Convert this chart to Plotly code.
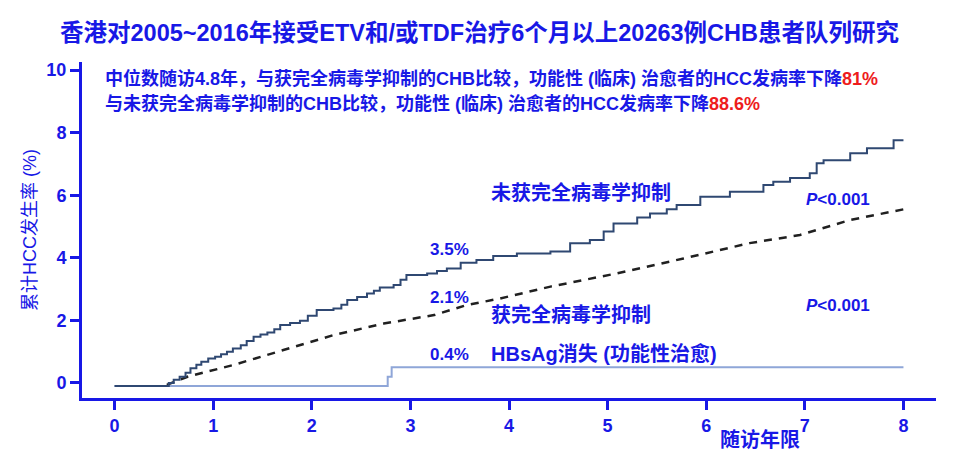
import plotly.graph_objects as go

BLUE = '#1818e6'
FONT = 'Liberation Sans, Noto Sans CJK SC, sans-serif'

# 未获完全病毒学抑制 (step curve: time of step, new level)
unsup_x = [0, 0.5, 0.55, 0.6, 0.66, 0.72, 0.77, 0.83, 0.88, 0.95, 1.02, 1.08, 1.14, 1.2,
           1.28, 1.34, 1.41, 1.48, 1.55, 1.62, 1.68, 1.78, 1.88, 1.96, 2.05, 2.22, 2.3,
           2.36, 2.46, 2.56, 2.63, 2.69, 2.83, 2.9, 2.96, 3.17, 3.27, 3.37, 3.51, 3.67,
           3.84, 4.08, 4.42, 4.62, 4.82, 4.96, 5.06, 5.3, 5.43, 5.6, 5.7, 5.94, 6.24,
           6.58, 6.68, 6.85, 7.05, 7.12, 7.19, 7.46, 7.63, 7.9, 8.0]
unsup_y = [-0.1, -0.1, 0.0, 0.1, 0.2, 0.33, 0.47, 0.58, 0.68, 0.78, 0.84, 0.92, 1.0, 1.1,
           1.21, 1.34, 1.48, 1.55, 1.61, 1.72, 1.85, 1.92, 1.99, 2.15, 2.33, 2.38, 2.5,
           2.65, 2.75, 2.86, 2.95, 3.05, 3.13, 3.3, 3.45, 3.5, 3.58, 3.66, 3.84, 3.93,
           4.06, 4.14, 4.2, 4.47, 4.57, 4.84, 5.1, 5.29, 5.42, 5.55, 5.69, 5.95, 6.11,
           6.33, 6.43, 6.55, 6.7, 7.02, 7.12, 7.34, 7.5, 7.76, 7.76]

# 获完全病毒学抑制 (dashed)
sup_x = [0.53, 0.74, 1.21, 1.72, 2.22, 2.73, 3.24, 3.57, 3.91, 4.42, 5.09, 5.77, 6.44,
         6.95, 7.46, 8.0]
sup_y = [-0.06, 0.2, 0.58, 1.05, 1.53, 1.9, 2.17, 2.49, 2.7, 3.08, 3.5, 3.98, 4.47,
         4.73, 5.21, 5.55]

# HBsAg消失 (功能性治愈)
cure_x = [0, 2.77, 2.81, 8.0]
cure_y = [-0.1, 0.2, 0.5, 0.5]

x_ticks = [0, 1, 2, 3, 4, 5, 6, 7, 8]
y_ticks = [0, 2, 4, 6, 8, 10]

fig = go.Figure()
fig.add_trace(go.Scatter(x=cure_x, y=cure_y, mode='lines', line_shape='hv',
                         line=dict(color='#8fa6d8', width=2)))
fig.add_trace(go.Scatter(x=sup_x, y=sup_y, mode='lines',
                         line=dict(color='#202020', width=2.5, dash='8px,7px')))
fig.add_trace(go.Scatter(x=unsup_x, y=unsup_y, mode='lines', line_shape='hv',
                         line=dict(color='#2f4872', width=2)))


def label(x, y, text, size=19, anchor='left'):
    fig.add_annotation(x=x, y=y, xref='x', yref='y', text=text, showarrow=False,
                       xanchor=anchor, yanchor='middle',
                       font=dict(family=FONT, size=size, color=BLUE, weight='bold'))


red = lambda s: f"<span style='color:#ee1c1c'>{s}</span>"
label(-0.12, 9.73, '中位数随访4.8年，与获完全病毒学抑制的CHB比较，功能性 (临床) 治愈者的HCC发病率下降' + red('81%'), size=18)
label(-0.12, 8.93, '与未获完全病毒学抑制的CHB比较，功能性 (临床) 治愈者的HCC发病率下降' + red('88.6%'), size=18)
label(3.8, 6.1, '未获完全病毒学抑制', size=20)
label(6.99, 5.86, '<i>P</i>&lt;0.001', size=17)
label(3.18, 4.28, '3.5%', size=17)
label(3.18, 2.72, '2.1%', size=17)
label(3.8, 2.2, '获完全病毒学抑制', size=20)
label(6.99, 2.48, '<i>P</i>&lt;0.001', size=17)
label(3.18, 0.9, '0.4%', size=17)
label(3.8, 0.95, 'HBsAg消失 (功能性治愈)', size=20)

fig.add_annotation(x=0.466, y=1, xref='paper', yref='paper', yshift=29,
                   text='香港对2005~2016年接受ETV和/或TDF治疗6个月以上20263例CHB患者队列研究',
                   showarrow=False, xanchor='center', yanchor='middle',
                   font=dict(family=FONT, size=23.5, color=BLUE, weight='bold'))
fig.add_annotation(x=6.12, y=0, xref='x', yref='paper', yshift=-42,
                   text='随访年限', showarrow=False, xanchor='left', yanchor='middle',
                   font=dict(family=FONT, size=20, color=BLUE, weight='bold'))

# page body has an 8px margin, so the figure is sized to fit the window
fig.update_layout(
    width=952, height=453,
    paper_bgcolor='white', plot_bgcolor='white',
    margin=dict(l=74, r=24, t=54, b=63),
    showlegend=False,
    xaxis=dict(range=[-0.33, 8.33], tickvals=x_ticks, showgrid=False, zeroline=False,
               showline=True, linecolor=BLUE, linewidth=3, ticks='outside',
               ticklen=9, tickwidth=3, tickcolor=BLUE,
               tickfont=dict(family=FONT, size=18, color=BLUE, weight='bold')),
    yaxis=dict(range=[-0.48, 10.26], tickvals=y_ticks, showgrid=False, zeroline=False,
               showline=True, linecolor=BLUE, linewidth=3, ticks='outside',
               ticklen=9, tickwidth=3, tickcolor=BLUE,
               tickfont=dict(family=FONT, size=18, color=BLUE, weight='bold'),
               title=dict(text='累计HCC发生率 (%)', standoff=6,
                          font=dict(family=FONT, size=18, color=BLUE))),
)

fig.write_html('out.html')
